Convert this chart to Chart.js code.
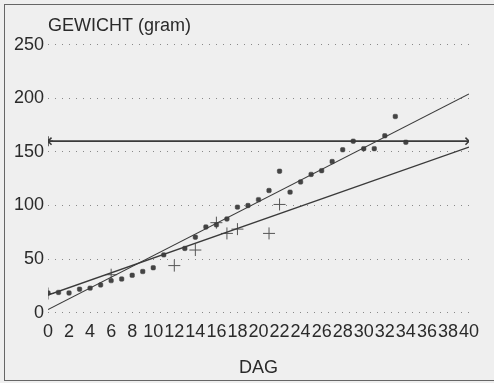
<!DOCTYPE html>
<html>
<head>
<meta charset="utf-8">
<script src="https://cdn.jsdelivr.net/npm/chart.js@4"></script>
<style>
  html, body { margin: 0; padding: 0; background: #efefef; }
  #wrap { position: relative; width: 494px; height: 383px; }
  #frame { position: absolute; left: 4px; top: 4px; width: 492px; height: 377px; border: 1.5px solid #666; border-right: none; box-sizing: border-box; pointer-events: none; }
  canvas { position: absolute; left: 0; top: 0; }
</style>
</head>
<body>
<div id="wrap">
  <canvas id="c" width="494" height="383"></canvas>
  <div id="frame"></div>
</div>
<script>
// Square markers (day, weight in gram)
const squareDays    = [0, 1, 2, 3, 4, 5, 6, 7, 8, 9, 10, 11, 13, 14, 15, 16, 17, 18, 19, 20, 21, 22, 23, 24, 25, 26, 27, 28, 29, 30, 31, 32, 33, 34];
const squareWeights = [18.5, 19, 18.5, 22, 23, 26, 30, 31.5, 35, 38.5, 42, 54, 60, 70.5, 80, 82, 87.5, 98.5, 100, 105.5, 114, 132, 112.5, 122, 129, 132.5, 141, 152, 160, 153, 153, 165, 183, 159];

// Plus markers
const plusDays    = [0, 6, 12, 14, 16, 17, 18, 21, 22];
const plusWeights = [18, 35.5, 44, 58.5, 84, 74, 78, 74, 101];

// Horizontal reference line with end markers
const refDays    = [0, 40];
const refWeights = [160, 160];

// Fitted lines (end points)
const fitADays    = [0, 40];
const fitAWeights = [3, 204];
const fitBDays    = [0, 40];
const fitBWeights = [16.5, 154.5];

// Axis ticks
const xTicks = [0, 2, 4, 6, 8, 10, 12, 14, 16, 18, 20, 22, 24, 26, 28, 30, 32, 34, 36, 38, 40];
const yTicks = [0, 50, 100, 150, 200, 250];

const pts = (xs, ys) => xs.map((x, i) => ({ x: x, y: ys[i] }));
const ink = '#3a3a3a';

new Chart(document.getElementById('c'), {
  type: 'scatter',
  data: {
    datasets: [
      { label: 'ref', data: pts(refDays, refWeights), showLine: true, borderColor: ink, borderWidth: 1.6,
        pointStyle: ['star', 'crossRot'], pointRadius: 5, pointBorderWidth: 1.5, pointBorderColor: ink, pointBackgroundColor: ink },
      { label: 'fitA', data: pts(fitADays, fitAWeights), showLine: true, borderColor: ink, borderWidth: 1.2, pointRadius: 0 },
      { label: 'fitB', data: pts(fitBDays, fitBWeights), showLine: true, borderColor: ink, borderWidth: 1.4, pointRadius: 0 },
      { label: 'squares', data: pts(squareDays, squareWeights), pointStyle: 'rectRounded', pointRadius: 2.6,
        backgroundColor: '#444', borderColor: '#444', borderWidth: 0.5 },
      { label: 'plus', data: pts(plusDays, plusWeights), pointStyle: 'cross', pointRadius: 6,
        borderColor: '#555', backgroundColor: '#555', borderWidth: 1 }
    ]
  },
  options: {
    responsive: false,
    animation: false,
    events: [],
    layout: { padding: { left: 0, right: 25, top: 8, bottom: 4 } },
    plugins: {
      legend: { display: false },
      tooltip: { enabled: false },
      title: {
        display: true, text: 'GEWICHT (gram)', align: 'start', fullSize: false,
        color: '#2a2a2a', font: { family: 'Liberation Sans', size: 18, weight: 'normal' },
        padding: { top: 7, bottom: 8 }
      }
    },
    scales: {
      x: {
        type: 'linear', min: 0, max: 40,
        afterBuildTicks: (s) => { s.ticks = xTicks.map(v => ({ value: v })); },
        grid: { display: false, drawTicks: false },
        border: { display: false },
        ticks: { autoSkip: false, maxRotation: 0, padding: 8, color: '#2a2a2a',
                 font: { family: 'Liberation Sans', size: 18 } },
        title: { display: true, text: 'DAG', color: '#2a2a2a', padding: { top: 7, bottom: 0 },
                 font: { family: 'Liberation Sans', size: 18 } }
      },
      y: {
        min: 0, max: 250,
        afterBuildTicks: (s) => { s.ticks = yTicks.map(v => ({ value: v })); },
        afterFit: (s) => { s.width = 48; },
        grid: { drawTicks: false, color: '#888', lineWidth: 1 },
        border: { display: false, dash: [1, 6] },
        ticks: { padding: 4, color: '#2a2a2a', font: { family: 'Liberation Sans', size: 18 } }
      }
    }
  }
});
</script>
</body>
</html>
